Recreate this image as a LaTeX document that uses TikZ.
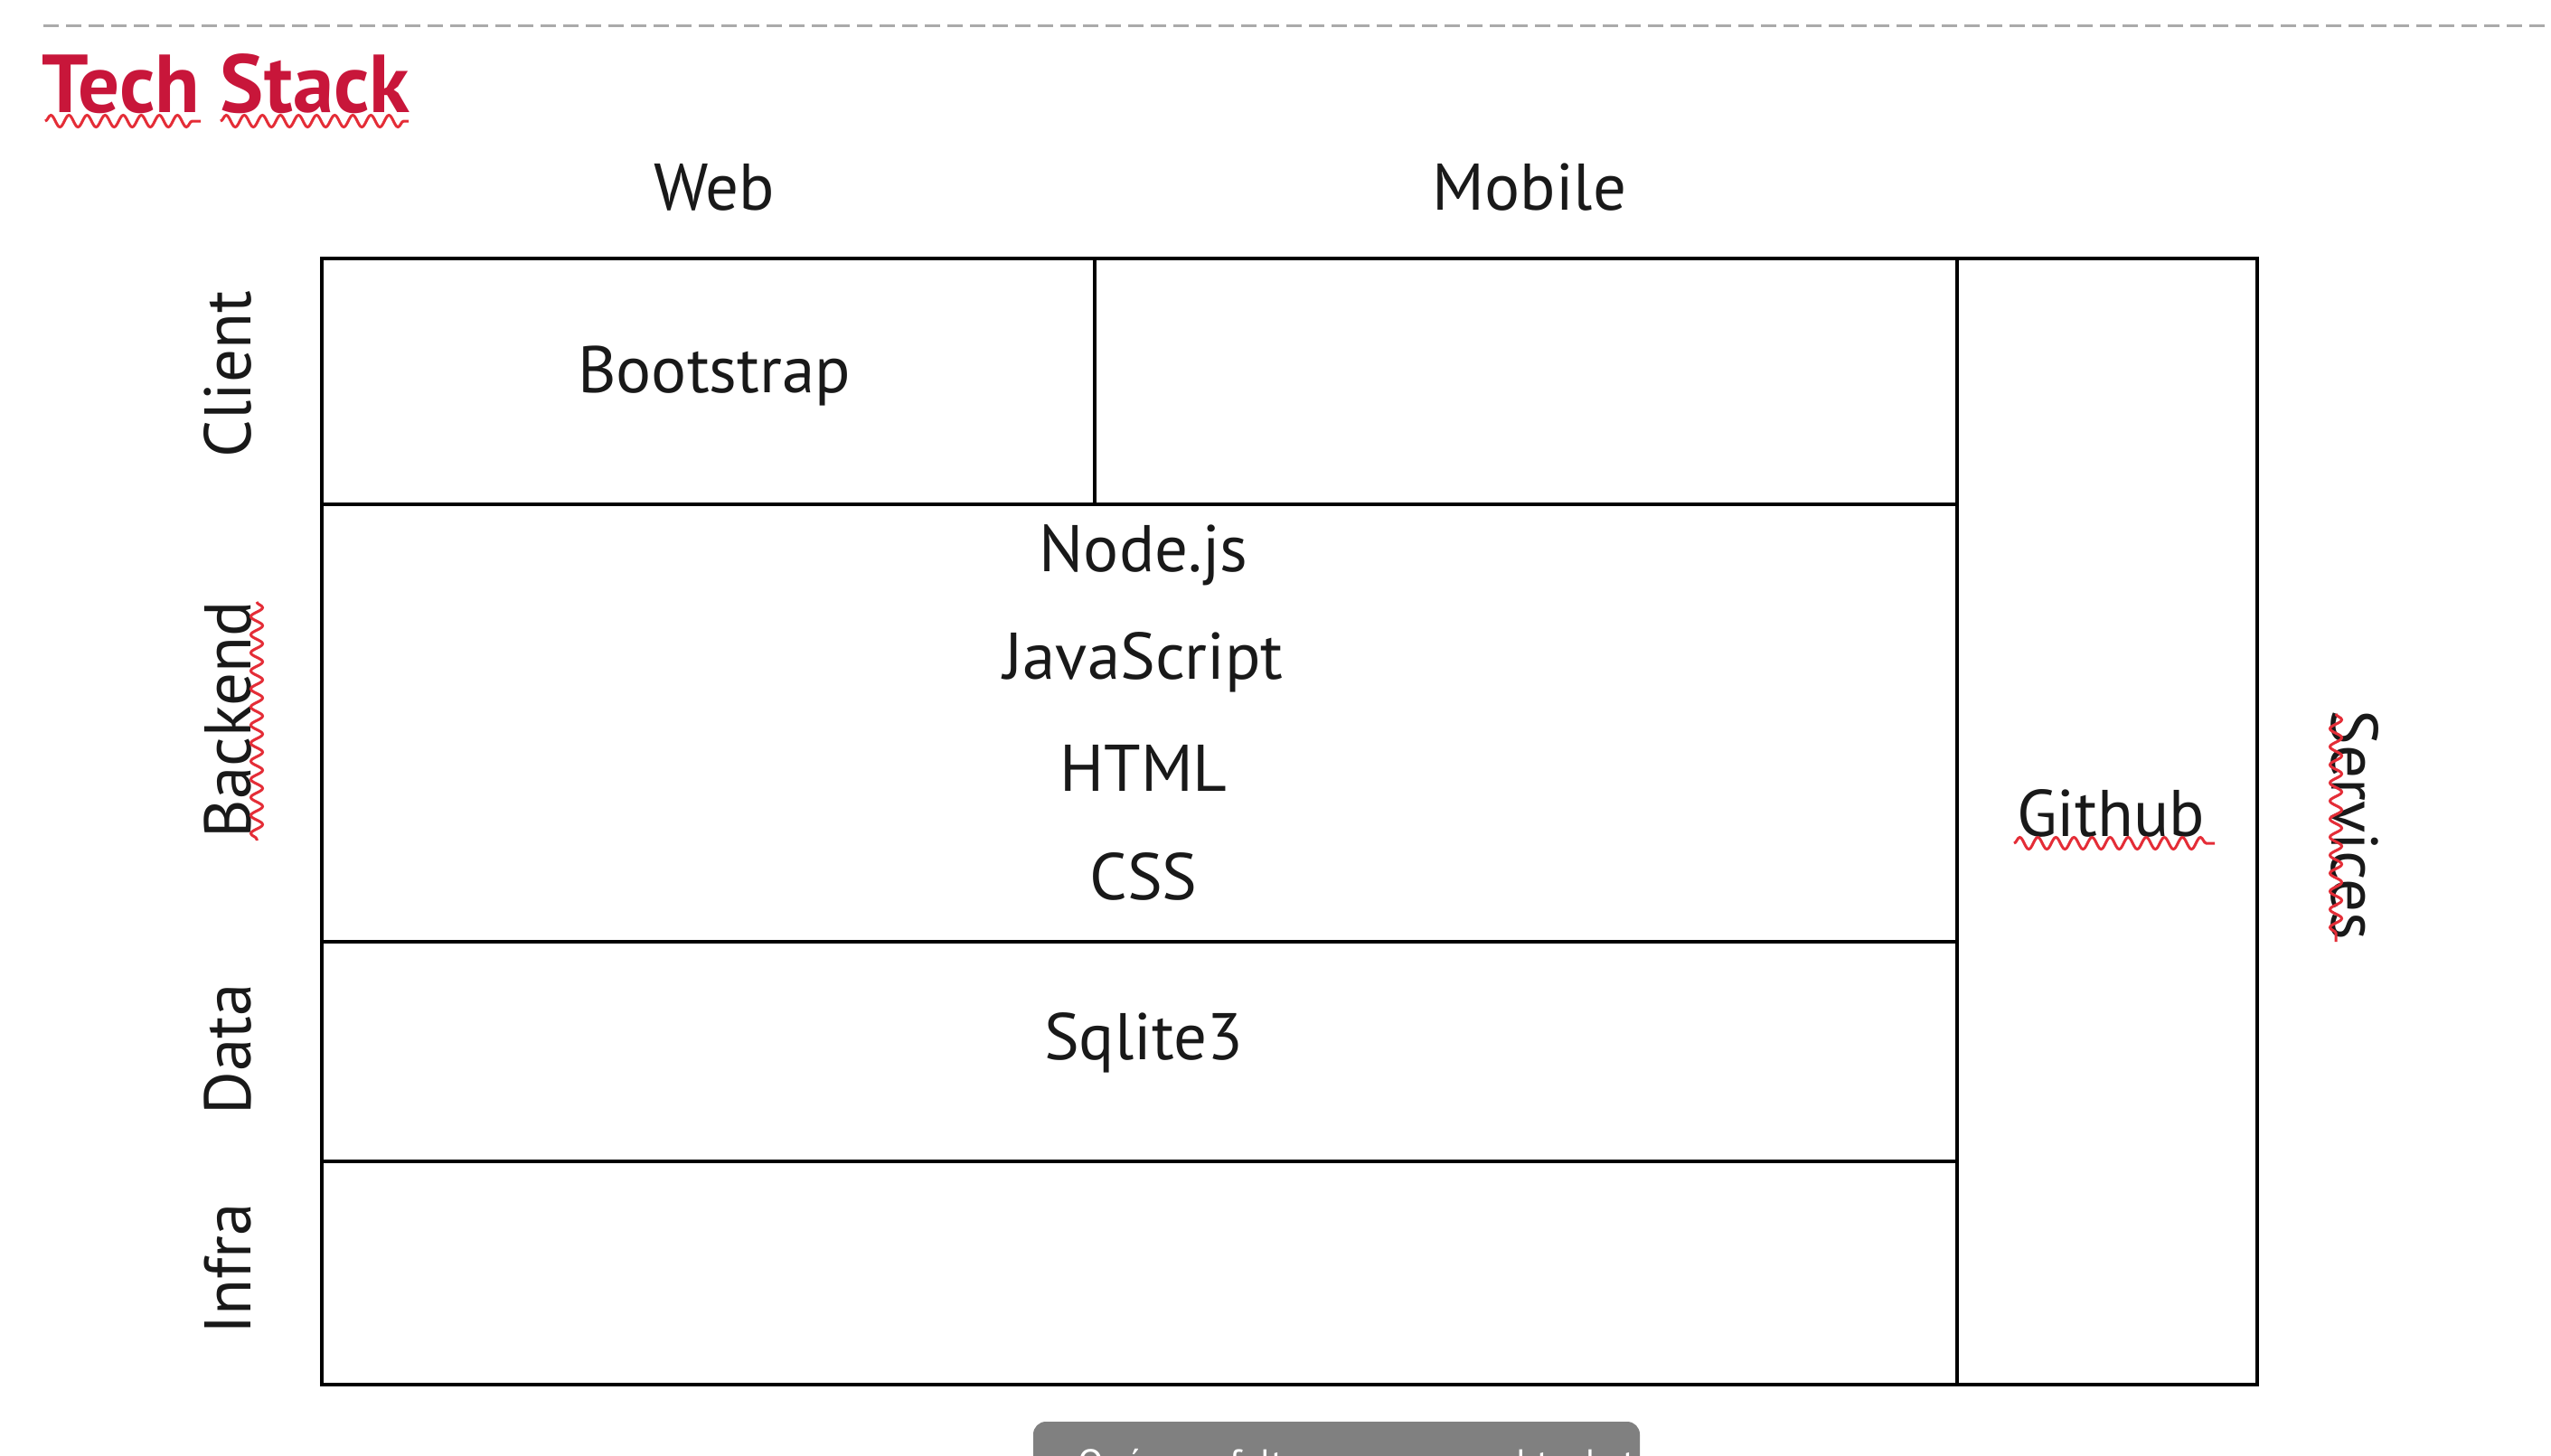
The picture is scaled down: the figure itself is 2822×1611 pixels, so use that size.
\documentclass[tikz,border=0pt]{standalone}
\usepackage{fontspec}
\setmainfont{PT Sans}
\usetikzlibrary{decorations.pathmorphing}
\definecolor{titlered}{RGB}{200,22,58}
\definecolor{squig}{RGB}{228,45,55}
\definecolor{dashgray}{RGB}{170,170,170}
\definecolor{tipgray}{RGB}{128,128,128}
\tikzset{
  cell/.style={draw=black, line width=3.4pt, inner sep=0pt, outer sep=0pt},
  lbl/.style={font=\fontsize{73}{86}\selectfont, text=black!90, inner sep=0pt},
  squiggle/.style={draw=squig, line width=3pt, decorate,
     decoration={snake, segment length=20pt, amplitude=6.5pt}}
}
\begin{document}
\begin{tikzpicture}[x=1pt,y=-1pt]
\useasboundingbox (0,0) rectangle (2822,1611);
% top dashed rule
\coordinate (ruleL) at (48,29);
\coordinate (ruleR) at (2822,29);
\draw[dashgray, line width=3pt, dash pattern=on 17pt off 8pt] (ruleL) -- (ruleR);
% title
\node[anchor=base west, inner sep=0pt, text=titlered, font=\fontsize{91}{104}\selectfont\bfseries] (title) at (46,124) {Tech Stack};
\coordinate (sq1a) at (50,134); \coordinate (sq1b) at (222,134);
\coordinate (sq2a) at (244,134); \coordinate (sq2b) at (452,134);
\draw[squiggle] (sq1a) -- (sq1b);
\draw[squiggle] (sq2a) -- (sq2b);
% column headers
\node[lbl] (web) at (790,207) {Web};
\node[lbl] (mobile) at (1692,207) {Mobile};
% cells
\node[cell, minimum width=855pt, minimum height=272pt] (cweb) at (783.5,422) {};
\node[cell, minimum width=954pt, minimum height=272pt] (cmob) at (1688,422) {};
\node[cell, minimum width=1809pt, minimum height=484pt] (cback) at (1260.5,800) {};
\node[cell, minimum width=1809pt, minimum height=243pt] (cdata) at (1260.5,1163.5) {};
\node[cell, minimum width=1809pt, minimum height=247pt] (cinfra) at (1260.5,1408.5) {};
\node[cell, minimum width=332pt, minimum height=1246pt] (cserv) at (2331,909) {};
% cell contents
\node[lbl] (boot) at (790,416) {Bootstrap};
\node[lbl] (node) at (1265,614) {Node.js};
\node[lbl] (js) at (1265,733) {JavaScript};
\node[lbl] (html) at (1265,850) {HTML};
\node[lbl] (css) at (1265,970) {CSS};
\node[lbl] (sql) at (1265,1154) {Sqlite3};
\node[lbl] (gh) at (2335,900) {Github};
\coordinate (sq3a) at (2228,933); \coordinate (sq3b) at (2450,933);
\draw[squiggle] (sq3a) -- (sq3b);
% row labels
\node[lbl, rotate=90] (client) at (252,414) {Client};
\node[lbl, rotate=90] (backend) at (252,796) {Backend};
\node[lbl, rotate=90] (data) at (252,1161) {Data};
\node[lbl, rotate=90] (infra) at (252,1404) {Infra};
\coordinate (sq4a) at (284,666); \coordinate (sq4b) at (284,930);
\draw[squiggle] (sq4a) -- (sq4b);
\node[lbl, rotate=-90] (serv) at (2605,913) {Services};
\coordinate (sq5a) at (2584,790); \coordinate (sq5b) at (2584,1042);
\draw[squiggle] (sq5a) -- (sq5b);
% tooltip (cut by the lower edge)
\begin{scope}
\clip (0,0) rectangle (2822,1611);
\fill[tipgray, rounded corners=14pt] (1143,1573) rectangle (1814,1680);
\node[anchor=base west, inner sep=0pt, text=white, font=\fontsize{42}{50}\selectfont] (tip) at (1174,1633) {¿Qué mas falta agregar en el techstack?};
\end{scope}
\end{tikzpicture}
\end{document}
